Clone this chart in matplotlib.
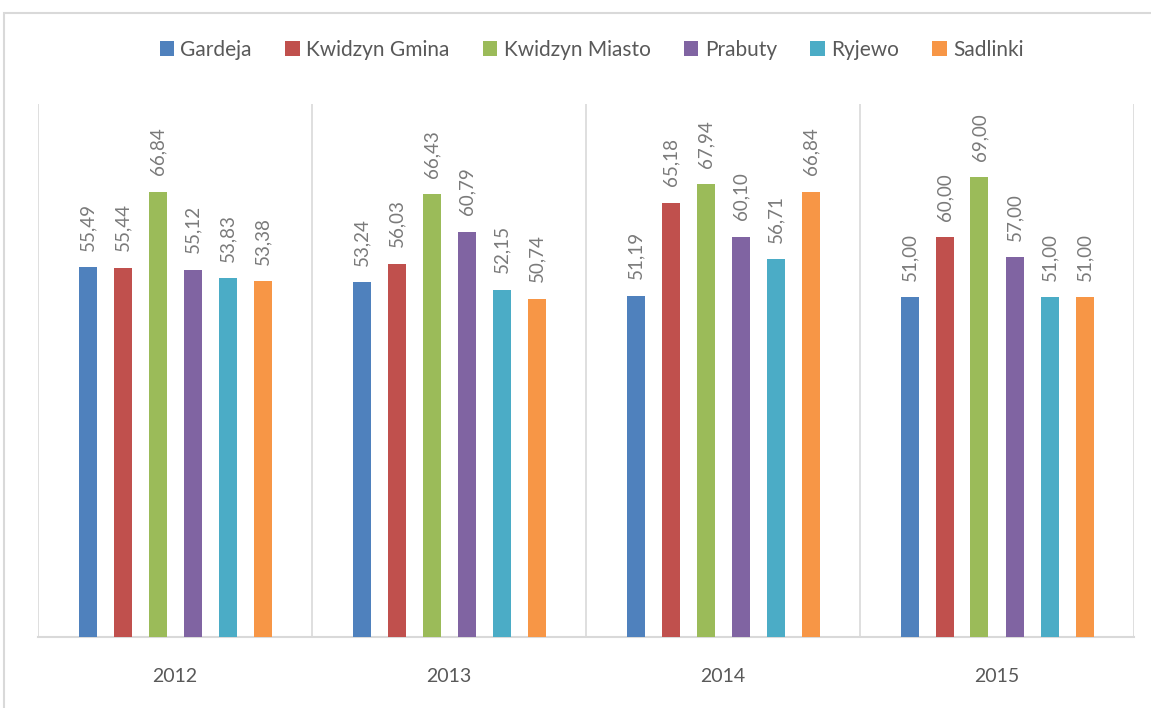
import numpy as np
import matplotlib.pyplot as plt
from matplotlib.patches import Rectangle

plt.rcParams['font.family'] = ['Lato', 'DejaVu Sans']

years = ['2012', '2013', '2014', '2015']
gminy = ['Gardeja', 'Kwidzyn Gmina', 'Kwidzyn Miasto', 'Prabuty', 'Ryjewo', 'Sadlinki']
gardeja = [55.49, 53.24, 51.19, 51.00]
kwidzyn_gmina = [55.44, 56.03, 65.18, 60.00]
kwidzyn_miasto = [66.84, 66.43, 67.94, 69.00]
prabuty = [55.12, 60.79, 60.10, 57.00]
ryjewo = [53.83, 52.15, 56.71, 51.00]
sadlinki = [53.38, 50.74, 66.84, 51.00]
series = [gardeja, kwidzyn_gmina, kwidzyn_miasto, prabuty, ryjewo, sadlinki]
colors = ['#4F81BD', '#C0504D', '#9BBB59', '#8064A2', '#4BACC6', '#F79646']

fig = plt.figure(figsize=(11.51, 7.08), dpi=100)
ax = fig.add_axes([38/1151, 1-637/708, (1134-38)/1151, (637-104)/708])

# outer chart border
fig.patches.append(Rectangle((4/1151, -0.05), 1.1, 1-13/708+0.05, transform=fig.transFigure,
                             fill=False, edgecolor='#d9d9d9', linewidth=1.5, zorder=0))

x = np.arange(len(years))
slot = 35/274
width = 18/274
for i, (vals, name, c) in enumerate(zip(series, gminy, colors)):
    pos = x + (i - 2.5) * slot
    ax.bar(pos, vals, width, color=c, label=name, zorder=3)
    for px, v in zip(pos, vals):
        ax.annotate(f'{v:.2f}'.replace('.', ','), (px, v), xytext=(0, 12), textcoords='offset points',
                    rotation=90, ha='center', va='bottom', fontsize=13.5, color='#7a7a7a')

ax.set_xlim(-0.5, len(years) - 0.5)
ax.set_ylim(0, 80)
for b in np.arange(-0.5, len(years), 1.0):
    ax.axvline(b, color='#d9d9d9', linewidth=1.2, zorder=1)
for s in ['top', 'right', 'left']:
    ax.spines[s].set_visible(False)
ax.spines['bottom'].set_color('#d9d9d9')
ax.spines['bottom'].set_linewidth(1.5)
ax.set_yticks([])
ax.set_xticks(x)
ax.set_xticklabels(years, fontsize=14, color='#595959')
ax.tick_params(axis='x', length=0, pad=22)

fig.legend(loc='center', bbox_to_anchor=(0.514, 1-50/708), ncol=6, frameon=False,
           fontsize=15, handlelength=0.7, handleheight=0.7, handletextpad=0.3,
           columnspacing=1.6, labelcolor='#595959')

fig.savefig('out.png', dpi=100)
